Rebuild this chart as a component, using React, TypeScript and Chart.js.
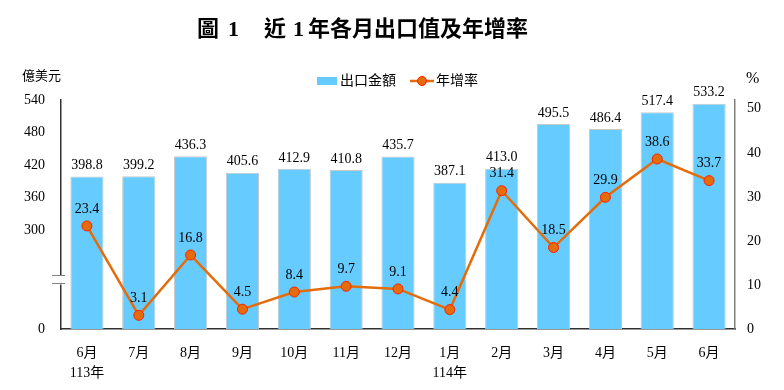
import React, { useEffect, useRef } from "react";
import { Chart, registerables, LinearScale } from "chart.js";

Chart.register(...registerables);

const categories: (string | string[])[] = [
  ["6月", "113年"], "7月", "8月", "9月", "10月", "11月", "12月",
  ["1月", "114年"], "2月", "3月", "4月", "5月", "6月",
];
const exportValues = [398.8, 399.2, 436.3, 405.6, 412.9, 410.8, 435.7, 387.1, 413.0, 495.5, 486.4, 517.4, 533.2];
const growthRates = [23.4, 3.1, 16.8, 4.5, 8.4, 9.7, 9.1, 4.4, 31.4, 18.5, 29.9, 38.6, 33.7];
const leftTicks = [0, 300, 360, 420, 480, 540];
const rightTicks = [0, 10, 20, 30, 40, 50];

const BREAK_VALUE = 300;
const LEFT_MAX = 540;
const LOW_FRAC = 99 / 229;

function leftFrac(v: number): number {
  if (v <= BREAK_VALUE) return (v / BREAK_VALUE) * LOW_FRAC;
  return LOW_FRAC + ((v - BREAK_VALUE) / (LEFT_MAX - BREAK_VALUE)) * (1 - LOW_FRAC);
}
function leftInv(f: number): number {
  if (f <= LOW_FRAC) return (f / LOW_FRAC) * BREAK_VALUE;
  return BREAK_VALUE + ((f - LOW_FRAC) / (1 - LOW_FRAC)) * (LEFT_MAX - BREAK_VALUE);
}

class BrokenScale extends (LinearScale as any) {
  static id = "broken";
  static defaults = (LinearScale as any).defaults;
  buildTicks() {
    (this as any).start = (this as any).min;
    (this as any).end = (this as any).max;
    return leftTicks.map((v) => ({ value: v }));
  }
  getPixelForValue(value: number) {
    if (value === null || value === undefined || isNaN(value)) return NaN;
    return (this as any).getPixelForDecimal(leftFrac(value));
  }
  getValueForPixel(pixel: number) {
    return leftInv((this as any).getDecimalForPixel(pixel));
  }
}
Chart.register(BrokenScale as any);

const SERIF = "'Liberation Serif', 'Times New Roman', 'Noto Sans CJK TC', serif";
const BAR_COLOR = "#66CCFF";
const LINE_COLOR = "#E46C0A";
const POINT_BORDER = "#FF2000";

const decorPlugin = {
  id: "decor",
  afterDatasetsDraw(chart: any) {
    const ctx = chart.ctx;
    ctx.save();
    ctx.fillStyle = "#000";
    ctx.font = `14px ${SERIF}`;
    ctx.textAlign = "center";
    ctx.textBaseline = "bottom";
    const barMeta = chart.getDatasetMeta(1);
    barMeta.data.forEach((el: any, i: number) => {
      ctx.fillText(exportValues[i].toFixed(1), el.x, el.y - 4);
    });
    const lineMeta = chart.getDatasetMeta(0);
    lineMeta.data.forEach((el: any, i: number) => {
      ctx.fillText(growthRates[i].toFixed(1), el.x, el.y - 10);
    });
    ctx.restore();
  },
  afterDraw(chart: any) {
    const ctx = chart.ctx;
    const area = chart.chartArea;
    ctx.save();
    // title
    ctx.fillStyle = "#000";
    ctx.textBaseline = "middle";
    ctx.textAlign = "left";
    ctx.font = `bold 22px ${SERIF}`;
    ctx.fillText("圖", 197, 30);
    ctx.fillText("1", 228, 30);
    ctx.fillText("近", 264, 30);
    ctx.fillText("1", 293, 30);
    ctx.fillText("年各月出口值及年增率", 308, 30);
    // axis units
    ctx.font = `13px ${SERIF}`;
    ctx.fillText("億美元", 22, 77);
    ctx.font = `16px ${SERIF}`;
    ctx.fillText("%", 746, 79);
    // legend
    ctx.fillStyle = BAR_COLOR;
    ctx.fillRect(317, 77, 20, 8);
    ctx.fillStyle = "#000";
    ctx.font = `14px ${SERIF}`;
    ctx.fillText("出口金額", 340, 81);
    ctx.strokeStyle = LINE_COLOR;
    ctx.lineWidth = 2.5;
    ctx.beginPath();
    ctx.moveTo(410, 81);
    ctx.lineTo(434, 81);
    ctx.stroke();
    ctx.beginPath();
    ctx.arc(422, 81, 4.5, 0, Math.PI * 2);
    ctx.fillStyle = LINE_COLOR;
    ctx.fill();
    ctx.strokeStyle = POINT_BORDER;
    ctx.lineWidth = 1;
    ctx.stroke();
    ctx.fillStyle = "#000";
    ctx.fillText("年增率", 436, 81);
    // axis break
    const yScale = chart.scales.y;
    const yb = yScale.getPixelForValue(150);
    ctx.fillStyle = "#fff";
    ctx.fillRect(area.left - 3, yb - 4, 6, 9);
    ctx.strokeStyle = "#808080";
    ctx.lineWidth = 1.2;
    ctx.beginPath();
    ctx.moveTo(area.left - 9, yb - 4);
    ctx.lineTo(area.left + 4, yb - 4);
    ctx.moveTo(area.left - 9, yb + 4);
    ctx.lineTo(area.left + 4, yb + 4);
    ctx.stroke();
    ctx.restore();
  },
};

export default function App() {
  const ref = useRef<HTMLCanvasElement>(null);
  useEffect(() => {
    if (!ref.current) return;
    const chart = new Chart(ref.current, {
      type: "bar",
      data: {
        labels: categories,
        datasets: [
          {
            type: "line",
            label: "年增率",
            data: growthRates,
            yAxisID: "y1",
            borderColor: LINE_COLOR,
            borderWidth: 2.5,
            pointBackgroundColor: LINE_COLOR,
            pointBorderColor: POINT_BORDER,
            pointBorderWidth: 1,
            pointRadius: 5,
            tension: 0,
            order: 0,
          } as any,
          {
            type: "bar",
            label: "出口金額",
            data: exportValues,
            yAxisID: "y",
            backgroundColor: BAR_COLOR,
            borderColor: "#C8C8C8",
            borderWidth: 1,
            barPercentage: 0.64,
            categoryPercentage: 1,
            order: 1,
          } as any,
        ],
      },
      options: {
        responsive: false,
        animation: false,
        layout: { padding: { top: 100, left: 0, right: 0, bottom: 0 } },
        plugins: { legend: { display: false }, tooltip: { enabled: false }, title: { display: false } },
        scales: {
          x: {
            grid: { display: false, drawTicks: false },
            border: { color: "#303030", width: 1.5 },
            ticks: {
              color: "#000",
              font: { family: SERIF, size: 14, lineHeight: 1.4 },
              padding: 15,
              maxRotation: 0,
              autoSkip: false,
            },
            afterFit(s: any) { s.height = 61; },
          },
          y: {
            type: "broken" as any,
            position: "left",
            min: 0,
            max: LEFT_MAX,
            grid: { display: false, drawTicks: false },
            border: { color: "#303030", width: 1.5 },
            ticks: { color: "#000", font: { family: SERIF, size: 14 }, padding: 16 },
            afterFit(s: any) { s.width = 61; },
          } as any,
          y1: {
            type: "linear",
            position: "right",
            min: 0,
            max: 52,
            grid: { display: false, drawTicks: false },
            border: { color: "#808080", width: 1.5 },
            ticks: { color: "#000", font: { family: SERIF, size: 14 }, padding: 12, stepSize: 10 },
            afterBuildTicks(s: any) { s.ticks = rightTicks.map((v) => ({ value: v })); },
            afterFit(s: any) { s.width = 49; },
          },
        },
      },
      plugins: [decorPlugin],
    });
    return () => chart.destroy();
  }, []);
  return (
    <div style={{ position: "absolute", left: 0, top: 0, width: 784, height: 390, background: "#fff" }}>
      <canvas ref={ref} width={784} height={390} />
    </div>
  );
}
